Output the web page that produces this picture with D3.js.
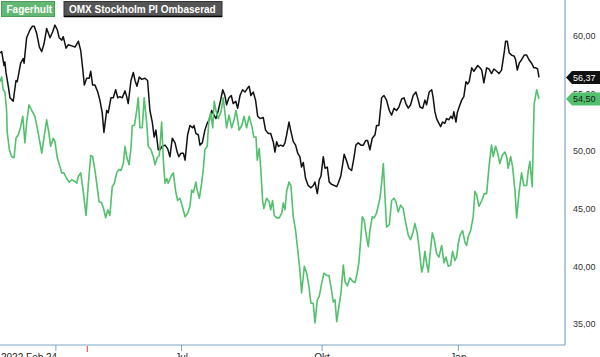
<!DOCTYPE html>
<html>
<head>
<meta charset="utf-8">
<title>Fagerhult vs OMX Stockholm PI</title>
<style>
  body { margin: 0; background: #fff; }
  text { font-family: "Liberation Sans", Arial, sans-serif; }
</style>
</head>
<body>
<script src="https://d3js.org/d3.v7.min.js"></script>
<script>
// [trading day since 2022-02-24, price]
var fagerhult = [[0,56.0],[0.8,56.4],[1.5,55.3],[2.3,55.1],[3.1,53.5],[3.4,51.6],[4.4,50.1],[5.5,49.5],[6.6,49.4],[7.5,51.1],
  [8.6,51.4],[9.7,52.1],[10.7,53.0],[11.7,50.7],[12.5,52.4],[13.6,54.0],[14.9,53.5],[16.4,53.0],[18.0,51.5],[19.6,49.8],
  [20.7,51.2],[21.9,52.7],[23.0,51.5],[23.8,50.4],[25.0,51.1],[25.8,50.8],[26.9,49.4],[28.2,48.6],[29.0,48.1],[30.0,48.1],
  [31.3,47.6],[32.5,47.3],[33.7,47.5],[34.7,47.4],[36.0,47.2],[36.8,47.8],[37.9,48.1],[39.1,46.5],[40.4,44.4],[41.5,47.2],
  [42.6,49.6],[43.5,49.5],[44.6,48.3],[45.4,47.2],[46.5,45.6],[47.7,45.5],[48.8,44.9],[49.6,44.2],[50.6,44.9],[51.6,44.4],
  [52.7,46.9],[53.7,47.2],[54.8,48.1],[55.9,48.4],[56.8,48.3],[57.9,48.9],[58.7,50.4],[59.5,49.5],[60.6,48.8],[61.5,50.2],
  [62.1,52.2],[63.1,52.2],[64.2,53.5],[64.9,54.6],[65.7,52.0],[66.8,52.0],[67.7,54.6],[68.9,52.4],[69.6,50.4],[70.9,50.1],
  [72.0,49.5],[72.8,48.8],[73.8,49.4],[74.8,49.6],[75.9,52.5],[76.7,49.2],[77.5,47.2],[78.3,47.6],[79.0,47.2],[80.3,47.8],
  [81.4,48.1],[82.5,46.5],[83.4,45.7],[84.5,45.9],[85.6,45.2],[86.9,44.3],[88.1,44.6],[89.2,45.2],[90.0,46.6],[90.8,46.4],
  [92.0,47.3],[92.6,46.6],[93.6,45.9],[94.7,47.2],[95.4,48.3],[96.2,50.1],[97.3,50.4],[98.1,52.7],[98.9,53.3],[99.9,52.0],
  [100.6,54.3],[101.4,53.5],[102.5,52.8],[103.8,53.4],[104.8,54.6],[105.8,53.0],[106.4,52.0],[107.5,53.1],[108.8,52.0],[109.9,52.7],
  [110.8,53.5],[111.6,52.7],[112.3,51.8],[113.5,52.2],[114.6,53.0],[115.8,52.0],[117.0,53.0],[118.3,52.1],[119.2,51.2],[120.2,51.2],
  [120.8,49.2],[121.7,50.2],[122.4,48.6],[123.3,45.7],[123.9,45.0],[125.2,45.9],[126.4,45.6],[127.1,44.9],[128.0,45.7],[128.8,44.4],
  [129.9,44.2],[131.1,44.2],[132.3,44.6],[133.0,45.5],[133.8,44.9],[134.6,46.5],[135.7,47.3],[136.6,47.0],[137.7,44.3],[138.8,43.1],
  [139.8,41.4],[140.8,39.7],[141.6,37.7],[142.9,40.0],[144.0,39.4],[145.1,38.2],[146.0,36.8],[147.1,36.8],[147.9,35.1],[149.0,37.1],
  [149.9,37.4],[151.0,38.5],[152.1,39.4],[153.4,39.2],[154.5,39.2],[155.7,37.9],[156.5,36.9],[157.3,37.1],[158.1,35.2],[159.2,36.6],
  [160.1,37.7],[161.2,40.1],[162.0,38.7],[163.1,38.3],[164.3,39.0],[165.6,38.7],[166.7,38.6],[167.7,39.4],[168.5,40.3],[169.5,42.6],
  [170.1,44.3],[171.0,44.0],[171.8,42.9],[172.9,41.7],[173.7,43.1],[174.8,44.3],[175.7,44.2],[176.8,44.6],[178.4,45.9],[179.2,47.2],
  [180.0,48.9],[181.5,43.4],[182.8,43.6],[183.9,45.7],[185.0,45.9],[185.9,45.6],[187.0,44.7],[188.1,45.3],[189.3,45.0],[190.6,43.7],
  [191.7,42.7],[192.8,42.3],[194.0,43.0],[194.8,43.7],[195.9,42.9],[196.9,41.4],[198.0,39.5],[198.7,40.0],[199.5,41.3],[200.3,40.3],
  [201.1,39.5],[201.9,41.0],[203.0,42.9],[203.9,42.3],[205.0,41.1],[206.1,40.8],[207.4,41.8],[208.5,40.3],[209.4,40.8],[210.5,40.0],
  [211.6,40.1],[212.5,41.3],[213.6,40.5],[214.4,40.8],[215.2,42.0],[216.0,42.7],[217.2,43.1],[218.3,42.1],[219.1,41.8],[219.9,42.6],
  [221.0,43.1],[222.2,44.3],[223.0,46.5],[223.8,46.2],[224.9,45.2],[226.2,45.7],[227.4,46.3],[228.5,46.3],[229.6,48.6],[230.8,50.5],
  [231.6,49.5],[232.7,50.4],[233.7,49.8],[234.7,48.9],[235.8,49.6],[237.1,49.9],[237.9,49.5],[238.6,48.5],[239.8,49.5],[240.7,48.6],
  [241.8,46.6],[242.6,44.2],[243.8,46.5],[244.9,48.1],[246.0,47.0],[247.3,47.0],[248.0,48.2],[248.8,49.1],[249.9,46.9],[250.8,54.0],
  [252.0,55.3],[253.1,54.5]];

var omx = [[0,58.5],[0.8,58.6],[1.9,57.4],[2.3,57.7],[2.8,56.8],[3.9,55.6],[4.7,54.6],[6.2,54.3],[7.5,56.1],[8.1,56.0],
  [9.7,57.6],[10.9,58.0],[11.3,57.6],[12.5,59.8],[14.1,60.5],[15.2,60.8],[16.1,60.8],[17.2,60.2],[18.5,59.0],[19.6,58.6],
  [20.7,59.3],[21.9,60.6],[23.5,59.8],[24.7,60.3],[25.8,60.9],[26.9,60.5],[27.8,59.8],[29.0,59.6],[29.7,59.9],[31.0,58.9],
  [32.1,59.2],[33.7,59.1],[35.2,59.0],[36.8,59.5],[37.9,58.7],[38.8,57.2],[39.6,55.7],[40.7,56.3],[41.9,56.3],[42.6,56.9],
  [43.5,55.7],[44.6,55.7],[45.9,55.1],[46.9,54.4],[48.0,53.3],[48.8,51.6],[50.1,53.5],[50.8,53.3],[52.1,54.6],[53.2,54.6],
  [54.3,55.3],[55.3,54.6],[56.3,54.7],[57.4,54.6],[58.7,55.2],[59.5,54.7],[60.2,54.1],[61.5,56.1],[62.6,56.8],[63.4,56.1],
  [64.3,55.6],[65.4,56.4],[66.5,56.2],[68.1,56.3],[69.3,56.1],[70.4,53.5],[71.5,52.5],[72.4,51.2],[73.2,51.8],[74.3,50.1],
  [75.1,50.1],[76.2,50.4],[77.5,50.5],[78.7,50.2],[79.8,49.5],[80.9,51.1],[82.2,50.7],[83.2,49.9],[84.0,49.5],[85.0,49.8],
  [86.1,49.8],[86.9,49.2],[88.1,51.4],[89.2,52.2],[90.5,52.0],[91.1,52.2],[92.0,51.5],[93.1,51.4],[93.9,50.5],[95.0,50.7],
  [96.2,51.8],[97.3,52.4],[98.3,52.7],[99.4,53.5],[100.5,53.1],[101.4,52.8],[102.5,53.5],[103.6,54.4],[104.6,55.3],[105.6,54.8],
  [106.4,54.0],[107.5,54.6],[108.6,54.8],[109.5,54.1],[110.7,54.3],[111.6,53.7],[112.7,54.8],[113.9,55.3],[115.0,55.1],[116.1,55.4],
  [117.0,55.6],[117.8,54.8],[118.9,55.1],[120.0,54.4],[121.0,53.0],[122.1,52.8],[123.6,52.9],[124.7,51.8],[126.0,51.5],[127.1,51.5],
  [128.3,50.8],[129.1,49.9],[129.9,50.8],[130.7,50.4],[131.8,50.5],[133.0,50.4],[133.8,50.7],[134.6,51.4],[135.7,52.5],[136.6,51.7],
  [137.7,50.8],[138.8,50.5],[139.8,49.8],[140.8,49.5],[141.6,48.6],[142.4,49.0],[143.5,47.6],[144.7,47.0],[146.0,46.8],[147.1,47.0],
  [147.9,47.3],[149.0,46.3],[149.9,47.5],[150.7,47.8],[151.8,49.5],[152.6,48.5],[153.7,48.6],[154.6,47.3],[155.7,47.1],[157.0,47.0],
  [158.1,46.9],[158.8,47.2],[160.0,47.8],[160.7,48.6],[161.6,49.7],[162.8,49.1],[163.8,48.5],[165.1,48.3],[166.2,49.4],[167.1,50.5],
  [168.2,50.7],[169.5,50.5],[170.6,50.5],[171.7,50.9],[172.6,50.9],[173.7,50.1],[174.8,51.1],[176.1,51.4],[176.8,52.2],[177.9,52.2],
  [179.2,54.6],[180.3,54.8],[181.5,54.4],[182.8,53.5],[183.9,53.1],[185.0,53.7],[186.2,53.5],[187.3,53.8],[188.6,54.5],[189.7,54.6],
  [190.6,54.1],[191.7,53.7],[192.8,54.0],[194.0,54.8],[195.3,55.1],[196.4,54.4],[197.2,53.8],[198.5,53.7],[199.5,54.4],[200.3,54.0],
  [201.5,55.1],[202.7,55.3],[203.4,54.6],[204.2,53.4],[205.0,52.8],[205.8,52.5],[206.9,52.1],[207.8,52.5],[208.9,52.4],[209.7,52.8],
  [210.8,52.7],[211.7,53.0],[212.5,52.8],[213.1,53.4],[214.1,52.5],[214.7,53.3],[215.6,53.8],[216.8,54.4],[217.8,54.7],[218.8,56.0],
  [219.6,55.8],[220.3,56.0],[221.5,57.2],[222.5,56.9],[224.3,57.4],[225.4,57.2],[226.2,57.0],[227.2,55.9],[228.5,57.2],[229.6,57.1],
  [230.8,56.7],[231.9,57.1],[233.2,56.9],[234.3,56.7],[235.5,57.0],[236.8,58.6],[237.4,59.5],[238.2,59.5],[239.1,58.5],[240.2,58.3],
  [241.5,58.2],[242.1,57.9],[242.9,57.0],[243.8,57.6],[244.9,57.9],[246.2,58.3],[247.3,58.3],[248.4,57.9],[249.6,57.6],[250.7,57.2],
  [251.6,57.2],[252.4,57.1],[253.1,56.37]];

var seriesNames = ["Fagerhult", "OMX Stockholm PI Ombaserad"];
var lastValues = [54.50, 56.37];
var yTicks = [35, 40, 45, 50, 55, 60];
var xTickDays = [26, 85, 151, 215];
var xTickLabels = ["", "Jul", "Okt", "Jan"];
var startLabel = "2022 Feb 24";
var reportDay = 41;

var width = 600, height = 357;
var plotRight = 565, plotBottom = 345;
var green = "#52c06c", black = "#111", axisColor = "#7ea6c6";

var x = d3.scaleLinear().domain([0, 265.3]).range([0, plotRight]);
var y = d3.scaleLinear().domain([35, 60]).range([324, 35.5]);

var se = d3.formatLocale({decimal: ",", thousands: " ", grouping: [3], currency: ["", " kr"]});
var fmt = se.format(".2f");

var svg = d3.select("body").append("svg")
  .attr("width", width)
  .attr("height", height);

var line = d3.line()
  .x(function(d) { return x(d[0]); })
  .y(function(d) { return y(d[1]); });

svg.append("path").datum(omx)
  .attr("d", line)
  .attr("fill", "none")
  .attr("stroke", black)
  .attr("stroke-width", 1.5)
  .attr("stroke-linejoin", "round");

svg.append("path").datum(fagerhult)
  .attr("d", line)
  .attr("fill", "none")
  .attr("stroke", green)
  .attr("stroke-width", 1.6)
  .attr("stroke-linejoin", "round");

// right axis
var yAxis = d3.axisRight(y)
  .tickValues(yTicks)
  .tickSize(0)
  .tickPadding(8)
  .tickFormat(fmt);

var yg = svg.append("g")
  .attr("transform", "translate(" + plotRight + ",0)")
  .call(yAxis);
yg.select(".domain").remove();
yg.selectAll("text").attr("font-size", 9).attr("fill", "#333")
  .style("font-family", "'Liberation Sans', Arial, sans-serif");

// bottom axis
var xAxis = d3.axisBottom(x)
  .tickValues(xTickDays)
  .tickSize(6)
  .tickPadding(3)
  .tickFormat(function(d, i) { return xTickLabels[i]; });

var xg = svg.append("g")
  .attr("transform", "translate(0," + plotBottom + ")")
  .call(xAxis);
xg.select(".domain").remove();
xg.selectAll("line").attr("stroke", axisColor);
xg.selectAll("text").attr("font-size", 10).attr("fill", "#222")
  .style("font-family", "'Liberation Sans', Arial, sans-serif");

svg.append("text")
  .attr("x", x(0) + 1)
  .attr("y", plotBottom + 16)
  .attr("font-size", 10)
  .attr("fill", "#222")
  .text(startLabel);

svg.append("line")
  .attr("x1", x(reportDay)).attr("x2", x(reportDay))
  .attr("y1", plotBottom + 1).attr("y2", plotBottom + 7)
  .attr("stroke", "#e8585a")
  .attr("stroke-width", 1.2);

svg.append("line")
  .attr("x1", 0).attr("x2", plotRight)
  .attr("y1", plotBottom).attr("y2", plotBottom)
  .attr("stroke", axisColor).attr("stroke-width", 1.2);
svg.append("line")
  .attr("x1", plotRight).attr("x2", plotRight)
  .attr("y1", 0).attr("y2", plotBottom)
  .attr("stroke", axisColor).attr("stroke-width", 1.2);

// last-value tags
var tags = [
  {v: lastValues[1], fill: black, text: "#fff"},
  {v: lastValues[0], fill: green, text: "#1a1a1a"}
];
tags.forEach(function(t) {
  var cy = y(t.v), tip = plotRight + 1;
  svg.append("path")
    .attr("d", "M" + tip + "," + cy + "L" + (tip + 6) + "," + (cy - 6.5) + "L600," + (cy - 6.5) +
      "L600," + (cy + 6.5) + "L" + (tip + 6) + "," + (cy + 6.5) + "Z")
    .attr("fill", t.fill);
  svg.append("text")
    .attr("x", plotRight + 8)
    .attr("y", cy + 3.3)
    .attr("font-size", 9)
    .attr("fill", t.text)
    .text(fmt(t.v));
});

// legend
var legend = [
  {name: seriesNames[0], x: 1.5, w: 53, fill: "#62b872", stroke: "#4e9c5d"},
  {name: seriesNames[1], x: 64, w: 158, fill: "#555", stroke: "#333"}
];
legend.forEach(function(l) {
  svg.append("rect")
    .attr("x", l.x).attr("y", 1.5)
    .attr("width", l.w).attr("height", 15)
    .attr("fill", l.fill)
    .attr("stroke", l.stroke);
  svg.append("text")
    .attr("x", l.x + 5)
    .attr("y", 12.5)
    .attr("font-size", 10)
    .attr("font-weight", "bold")
    .attr("fill", "#fff")
    .text(l.name);
});
svg.append("line")
  .attr("x1", 64).attr("x2", 222)
  .attr("y1", 16.5).attr("y2", 16.5)
  .attr("stroke", "#000").attr("stroke-width", 1.5);
</script>
</body>
</html>
